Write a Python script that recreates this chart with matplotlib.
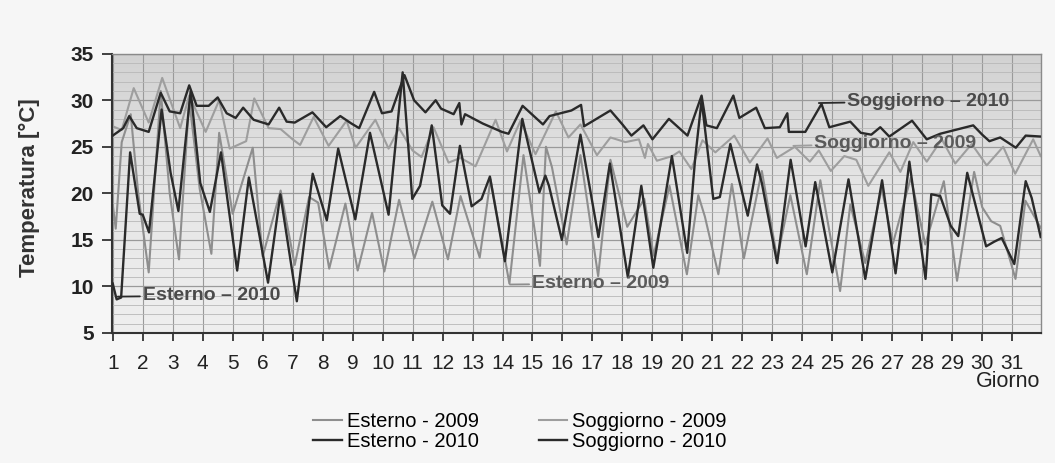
import numpy as np
import matplotlib
matplotlib.use('Agg')
import matplotlib.pyplot as plt
from matplotlib.colors import LinearSegmentedColormap
from matplotlib.ticker import MultipleLocator

plt.rcParams['font.family'] = ['Liberation Sans', 'DejaVu Sans']

# values (turning points, day of month)
est09_day = [1.00, 1.10, 1.30, 1.60, 1.85, 2.20, 2.60, 2.90, 3.21, 3.55, 3.90, 4.29, 4.55, 5.00, 5.67,
             6.00, 6.60, 7.07, 7.55, 7.85, 8.22, 8.76, 9.17, 9.65, 10.06, 10.55, 11.06, 11.66, 12.18, 12.60,
             13.24, 13.60, 14.23, 14.70, 15.25, 15.45, 15.65, 16.14, 16.60, 17.19, 17.60, 18.16, 18.73, 19.04,
             19.57, 20.15, 20.53, 20.75, 21.20, 21.65, 22.05, 22.65, 23.16, 23.60, 24.15, 24.60, 25.26, 25.60,
             26.10, 26.65, 27.02, 27.62, 28.10, 28.72, 29.16, 29.73, 30.00, 30.30, 30.60, 31.11, 31.44, 31.95]
est09_temp = [18.8, 16.2, 25.5, 28.5, 20.0, 11.5, 31.0, 20.0, 12.9, 30.0, 20.5, 13.5, 26.5, 17.8, 24.9,
              13.2, 20.3, 12.3, 19.6, 19.0, 11.9, 18.9, 11.7, 17.9, 11.6, 19.3, 13.0, 19.1, 12.9, 19.7,
              13.1, 21.5, 10.3, 24.1, 12.2, 25.0, 22.8, 14.5, 24.1, 11.1, 23.6, 16.4, 19.4, 13.3,
              20.8, 11.3, 19.8, 17.5, 11.3, 21.0, 13.0, 22.4, 13.0, 19.8, 11.3, 21.4, 9.5, 18.8,
              12.5, 20.5, 14.6, 21.7, 14.5, 21.3, 10.6, 22.3, 18.5, 17.0, 16.5, 10.8, 19.2, 16.3]

est10_day = [1.00, 1.13, 1.28, 1.58, 1.90, 2.00, 2.21, 2.63, 2.93, 3.19, 3.60, 3.92, 4.24, 4.61, 5.15,
             5.54, 6.18, 6.59, 7.14, 7.67, 8.14, 8.52, 9.09, 9.58, 10.20, 10.67, 10.99, 11.25, 11.64, 11.99,
             12.25, 12.58, 12.97, 13.30, 13.58, 14.08, 14.66, 15.23, 15.43, 15.55, 15.98, 16.60, 17.20, 17.58,
             18.18, 18.63, 19.03, 19.65, 20.16, 20.43, 20.64, 21.03, 21.25, 21.60, 22.18, 22.49, 22.65, 23.16,
             23.61, 24.11, 24.43, 25.00, 25.54, 26.10, 26.66, 27.11, 27.57, 28.11, 28.30, 28.60, 28.95, 29.20,
             29.50, 30.13, 30.40, 30.65, 31.07, 31.45, 31.65, 31.95]
est10_temp = [10.3, 8.6, 8.8, 24.4, 17.8, 17.7, 15.8, 29.0, 22.2, 18.1, 31.0, 21.1, 18.0, 24.4, 11.7,
              21.7, 10.4, 19.9, 8.4, 22.1, 17.1, 24.8, 17.2, 26.5, 17.7, 33.0, 19.4, 20.8, 27.3, 18.7,
              17.8, 25.1, 18.6, 19.4, 21.8, 12.7, 28.0, 20.1, 21.9, 20.8, 15.0, 26.3, 15.3, 23.2,
              11.0, 20.8, 12.0, 24.0, 13.6, 23.9, 30.0, 19.4, 19.6, 25.3, 17.6, 23.1, 21.1, 12.5,
              23.6, 14.3, 21.2, 11.5, 21.5, 10.8, 21.4, 11.4, 23.4, 10.8, 19.9, 19.7, 16.5, 15.4,
              22.2, 14.3, 14.8, 15.2, 12.4, 21.3, 19.5, 15.3]

sog09_day = [1.00, 1.30, 1.70, 2.20, 2.65, 3.25, 3.55, 4.10, 4.55, 4.90, 5.45, 5.72, 6.20, 6.60, 7.00,
             7.25, 7.70, 8.20, 8.80, 9.10, 9.76, 10.20, 10.55, 11.00, 11.30, 11.70, 12.20, 12.60, 13.10, 13.77,
             14.15, 14.60, 15.10, 15.78, 16.20, 16.60, 17.15, 17.60, 18.10, 18.55, 18.75, 18.85, 19.15, 19.66,
             19.90, 20.30, 20.67, 21.10, 21.73, 22.25, 22.84, 23.15, 23.75, 24.25, 24.55, 24.95, 25.40, 25.80,
             26.20, 26.90, 27.27, 27.70, 28.15, 28.65, 29.10, 29.65, 30.15, 30.70, 31.10, 31.70, 31.95]
sog09_temp = [27.2, 26.8, 31.3, 27.6, 32.4, 27.0, 30.5, 26.6, 30.0, 24.8, 25.6, 30.2, 27.0, 26.9, 25.8,
              25.2, 28.2, 25.1, 27.8, 24.9, 27.9, 24.8, 27.0, 24.6, 23.9, 27.1, 23.3, 23.8, 22.9, 27.9,
              24.5, 27.8, 24.2, 28.8, 26.0, 27.4, 24.1, 26.0, 25.5, 25.8, 23.8, 25.3, 23.5, 24.0,
              24.5, 22.6, 25.7, 24.4, 26.2, 23.3, 25.9, 23.8, 25.0, 23.4, 24.6, 22.4, 24.0, 23.6,
              20.8, 24.4, 22.3, 25.5, 23.4, 25.8, 23.2, 25.3, 23.0, 25.0, 22.1, 25.8, 24.0]

sog10_day = [1.00, 1.35, 1.55, 1.80, 2.20, 2.60, 2.90, 3.25, 3.55, 3.80, 4.20, 4.50, 4.80, 5.10, 5.35,
             5.70, 6.20, 6.55, 6.80, 7.07, 7.66, 8.12, 8.59, 8.96, 9.22, 9.72, 9.98, 10.30, 10.73, 11.05,
             11.43, 11.77, 11.95, 12.37, 12.56, 12.63, 12.75, 13.34, 13.98, 14.20, 14.67, 15.35, 15.57, 16.30,
             16.62, 16.72, 17.60, 18.00, 18.30, 18.70, 19.00, 19.55, 20.17, 20.64, 20.80, 21.15, 21.70, 21.90,
             22.46, 22.75, 23.25, 23.50, 23.55, 24.10, 24.64, 24.90, 25.60, 25.95, 26.30, 26.60, 26.90, 27.66,
             28.15, 28.60, 29.70, 30.00, 30.24, 30.60, 31.12, 31.45, 31.95]
sog10_temp = [26.2, 27.0, 28.3, 27.0, 26.6, 30.8, 28.8, 28.6, 31.6, 29.4, 29.4, 30.3, 28.6, 28.1, 29.2,
              27.9, 27.4, 29.2, 27.7, 27.6, 28.7, 27.1, 28.3, 27.5, 27.0, 30.9, 28.6, 28.8, 32.7, 30.0,
              28.7, 30.0, 29.1, 28.5, 29.7, 27.4, 28.5, 27.5, 26.6, 26.4, 29.4, 27.4, 28.3, 28.9,
              29.5, 27.2, 28.9, 27.4, 26.2, 27.3, 25.8, 28.0, 26.2, 30.5, 27.3, 27.0, 30.5, 28.1,
              29.2, 27.0, 27.1, 28.6, 26.6, 26.6, 29.6, 27.1, 27.7, 26.5, 26.3, 27.1, 26.1, 27.8,
              25.8, 26.4, 27.3, 26.3, 25.6, 26.0, 24.9, 26.2, 26.1]

day_ticks = list(range(1, 32))
temp_ticks = [5, 10, 15, 20, 25, 30, 35]

dark = '#2a2a2a'
grey = '#8e8e8e'
grey_light = '#9e9e9e'

fig = plt.figure(figsize=(10.55, 4.63), dpi=100, facecolor='#f6f6f6')
ax = fig.add_axes([0.106, 0.281, 0.881, 0.603])

# greyish plot background, darker at the top like the scan
bg = LinearSegmentedColormap.from_list('bg', ['#d2d2d2', '#e6e6e6', '#efefef'])
ax.imshow(np.linspace(0, 1, 200).reshape(-1, 1), cmap=bg, extent=[0, 1, 0, 1],
          transform=ax.transAxes, aspect='auto', zorder=0)

l1, = ax.plot(est09_day, est09_temp, color=grey, lw=1.5, zorder=2, solid_joinstyle='round')
l3, = ax.plot(sog09_day, sog09_temp, color=grey_light, lw=1.5, zorder=2, solid_joinstyle='round')
l2, = ax.plot(est10_day, est10_temp, color=dark, lw=1.7, zorder=3, solid_joinstyle='round')
l4, = ax.plot(sog10_day, sog10_temp, color=dark, lw=1.7, zorder=3, solid_joinstyle='round')

ax.set_xlim(0.97, 31.97)
ax.set_ylim(5, 35)
ax.set_xticks(day_ticks)
ax.set_yticks(temp_ticks)
ax.yaxis.set_minor_locator(MultipleLocator(1))
ax.set_axisbelow(True)
ax.grid(which='major', axis='x', color='#9a9a9a', lw=0.8)
ax.grid(which='major', axis='y', color='#9a9a9a', lw=0.9)
ax.grid(which='minor', axis='y', color='#b8b8b8', lw=0.6)

ax.tick_params(axis='x', which='major', direction='out', length=6, width=1.2, pad=9,
               labelsize=15, colors='#222')
ax.tick_params(axis='y', which='major', direction='out', length=7, width=1.2, pad=6,
               labelsize=15, colors='#222')
ax.tick_params(which='minor', length=0)
for lab in ax.get_yticklabels():
    lab.set_fontweight('bold')

for side in ['left', 'bottom']:
    ax.spines[side].set_color('#333333')
    ax.spines[side].set_linewidth(1.5)
for side in ['top', 'right']:
    ax.spines[side].set_color('#8a8a8a')
    ax.spines[side].set_linewidth(1.0)

fig.text(0.028, 0.594, 'Temperatura [°C]', rotation=90, ha='center', va='center',
         fontsize=16, fontweight='bold', color='#333')
fig.text(0.986, 0.175, 'Giorno', ha='right', va='center', fontsize=15.5, color='#222')

# labels with short leader lines
ax.annotate('Esterno – 2010', xy=(1.17, 8.9), xytext=(2.0, 9.0), ha='left', va='center',
            fontsize=14, fontweight='bold', color='#4a4a4a',
            arrowprops=dict(arrowstyle='-', color=dark, lw=1.3, shrinkA=0, shrinkB=0))
ax.annotate('Esterno – 2009', xy=(14.25, 10.2), xytext=(14.98, 10.3), ha='left', va='center',
            fontsize=14, fontweight='bold', color='#5a5a5a',
            arrowprops=dict(arrowstyle='-', color=grey, lw=1.3, shrinkA=0, shrinkB=0))
ax.annotate('Soggiorno – 2010', xy=(24.55, 29.7), xytext=(25.5, 29.9), ha='left', va='center',
            fontsize=14, fontweight='bold', color='#4a4a4a',
            arrowprops=dict(arrowstyle='-', color=dark, lw=1.3, shrinkA=0, shrinkB=0))
ax.annotate('Soggiorno – 2009', xy=(23.7, 25.1), xytext=(24.4, 25.4), ha='left', va='center',
            fontsize=14, fontweight='bold', color='#5a5a5a',
            arrowprops=dict(arrowstyle='-', color=grey_light, lw=1.3, shrinkA=0, shrinkB=0))

fig.legend([l1, l2, l3, l4],
           ['Esterno - 2009', 'Esterno - 2010', 'Soggiorno - 2009', 'Soggiorno - 2010'],
           ncol=2, loc='center', bbox_to_anchor=(0.493, 0.068), frameon=False,
           fontsize=14.5, handlelength=1.4, handletextpad=0.25, columnspacing=3.0,
           labelspacing=0.05, borderpad=0)

fig.savefig('out.png', dpi=100, facecolor=fig.get_facecolor())
